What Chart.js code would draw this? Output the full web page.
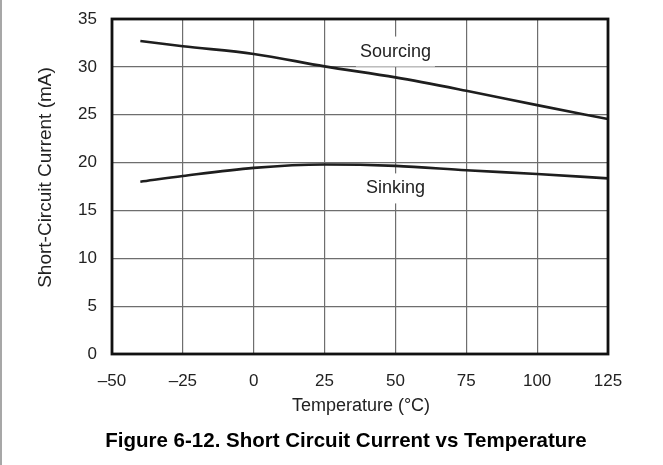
<!DOCTYPE html>
<html>
<head>
<meta charset="utf-8">
<script src="https://cdn.jsdelivr.net/npm/chart.js@4/dist/chart.umd.min.js"></script>
<style>
  html, body { margin: 0; padding: 0; background: #fff; }
  #wrap { width: 663px; height: 465px; position: relative; }
</style>
</head>
<body>
<div id="wrap"><canvas id="c" width="663" height="465"></canvas></div>
<script>
// ---- data ----
const temperatures = [-40, -25, 0, 25, 50, 75, 100, 125];
const sourcingCurrent = [32.7, 32.15, 31.35, 30.05, 28.9, 27.5, 26.0, 24.55];
const sinkingCurrent = [18.0, 18.6, 19.45, 19.8, 19.65, 19.2, 18.8, 18.35];
const xTickValues = [-50, -25, 0, 25, 50, 75, 100, 125];
const xTickLabels = ['\u201350', '\u201325', '0', '25', '50', '75', '100', '125'];
const yTickValues = [0, 5, 10, 15, 20, 25, 30, 35];
const seriesNames = ['Sourcing', 'Sinking'];
const labelAnchors = [[50, 31.6], [50, 17.3]];
const xTitle = 'Temperature (\u00B0C)';
const yTitle = 'Short-Circuit Current (mA)';
const caption = 'Figure 6-12. Short Circuit Current vs Temperature';

const FONT = '"Liberation Sans", Arial, Helvetica, sans-serif';
const TXT = '#222';

function pts(xs, ys) { return xs.map((x, i) => ({ x: x, y: ys[i] })); }

const decor = {
  id: 'decor',
  beforeDraw(chart) {
    const ctx = chart.ctx;
    ctx.save();
    ctx.fillStyle = '#fff';
    ctx.fillRect(0, 0, chart.width, chart.height);
    ctx.strokeStyle = '#8a8a8a';
    ctx.lineWidth = 1.5;
    ctx.beginPath();
    ctx.moveTo(1, 0); ctx.lineTo(1, chart.height);
    ctx.stroke();
    ctx.restore();
  },
  afterDatasetsDraw(chart) {
    const ctx = chart.ctx;
    const a = chart.chartArea;
    const xs = chart.scales.x, ys = chart.scales.y;
    ctx.save();
    // series labels with white background
    ctx.font = '18px ' + FONT;
    ctx.textAlign = 'center';
    ctx.textBaseline = 'middle';
    seriesNames.forEach((name, i) => {
      const px = xs.getPixelForValue(labelAnchors[i][0]);
      const py = ys.getPixelForValue(labelAnchors[i][1]);
      const w = ctx.measureText(name).width + 8;
      ctx.fillStyle = '#fff';
      ctx.fillRect(px - w / 2, py - 15, w, 30);
      ctx.fillStyle = TXT;
      ctx.fillText(name, px, py);
    });
    // frame
    ctx.strokeStyle = '#111';
    ctx.lineWidth = 2.8;
    ctx.strokeRect(a.left, a.top, a.right - a.left, a.bottom - a.top);
    // axis titles
    ctx.fillStyle = TXT;
    ctx.font = '18px ' + FONT;
    ctx.textAlign = 'center';
    ctx.textBaseline = 'middle';
    ctx.fillText(xTitle, (a.left + a.right) / 2 + 1, 406);
    ctx.save();
    ctx.translate(46, (a.top + a.bottom) / 2 - 9);
    ctx.rotate(-Math.PI / 2);
    ctx.font = '19px ' + FONT;
    ctx.fillText(yTitle, 0, 0);
    ctx.restore();
    ctx.fillStyle = '#000';
    ctx.font = 'bold 20.5px ' + FONT;
    ctx.fillText(caption, (a.left + a.right) / 2 - 14, 441);
    ctx.restore();
  }
};

function noPad(s) { s.paddingTop = 0; s.paddingBottom = 0; s.paddingLeft = 0; s.paddingRight = 0; }

new Chart(document.getElementById('c'), {
  type: 'line',
  data: {
    datasets: [
      { label: seriesNames[0], data: pts(temperatures, sourcingCurrent) },
      { label: seriesNames[1], data: pts(temperatures, sinkingCurrent) }
    ]
  },
  options: {
    responsive: false,
    animation: false,
    devicePixelRatio: 1,
    layout: { padding: { top: 19, right: 55, left: 0, bottom: 0 } },
    elements: {
      line: { borderColor: '#1e1e1e', borderWidth: 2.6, tension: 0.4, cubicInterpolationMode: 'monotone', fill: false },
      point: { radius: 0, hoverRadius: 0 }
    },
    plugins: { legend: { display: false }, tooltip: { enabled: false }, title: { display: false } },
    scales: {
      x: {
        type: 'linear',
        min: -50, max: 125,
        afterFit(s) { s.height = 111; noPad(s); },
        afterBuildTicks(s) { s.ticks = xTickValues.map(v => ({ value: v })); },
        grid: { color: '#6e6e6e', lineWidth: 1.2, drawTicks: false },
        border: { display: false },
        ticks: {
          padding: 17,
          color: TXT,
          font: { family: FONT, size: 17 },
          maxRotation: 0,
          callback: (v) => xTickLabels[xTickValues.indexOf(v)]
        }
      },
      y: {
        min: 0, max: 35,
        afterFit(s) { s.width = 112; noPad(s); },
        afterBuildTicks(s) { s.ticks = yTickValues.map(v => ({ value: v })); },
        grid: { color: '#6e6e6e', lineWidth: 1.2, drawTicks: false },
        border: { display: false },
        ticks: {
          padding: 15,
          color: TXT,
          font: { family: FONT, size: 17 }
        }
      }
    }
  },
  plugins: [decor]
});
</script>
</body>
</html>
